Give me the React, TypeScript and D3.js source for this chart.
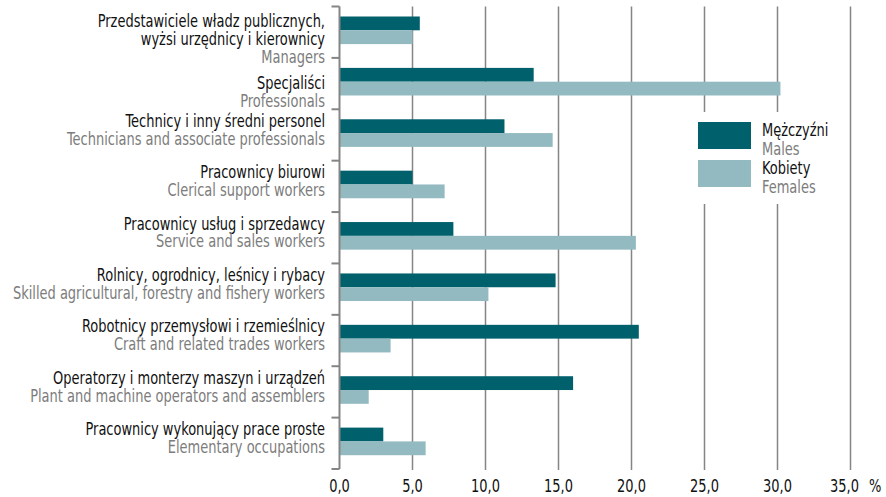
import React, {useRef, useEffect} from 'react';
import * as d3 from 'd3';

// kategorie (PL, wiersze) i nazwy angielskie
const categoriesPl: string[][] = [
  ['Przedstawiciele władz publicznych,', 'wyżsi urzędnicy i kierownicy'],
  ['Specjaliści'],
  ['Technicy i inny średni personel'],
  ['Pracownicy biurowi'],
  ['Pracownicy usług i sprzedawcy'],
  ['Rolnicy, ogrodnicy, leśnicy i rybacy'],
  ['Robotnicy przemysłowi i rzemieślnicy'],
  ['Operatorzy i monterzy maszyn i urządzeń'],
  ['Pracownicy wykonujący prace proste'],
];
const categoriesEn: string[] = [
  'Managers',
  'Professionals',
  'Technicians and associate professionals',
  'Clerical support workers',
  'Service and sales workers',
  'Skilled agricultural, forestry and fishery workers',
  'Craft and related trades workers',
  'Plant and machine operators and assemblers',
  'Elementary occupations',
];
const males: number[] = [5.5, 13.3, 11.3, 5.0, 7.8, 14.8, 20.5, 16.0, 3.0];
const females: number[] = [5.0, 30.2, 14.6, 7.2, 20.3, 10.2, 3.5, 2.0, 5.9];
const ticks: number[] = [0, 5, 10, 15, 20, 25, 30, 35];
const seriesPl = ['Mężczyźni', 'Kobiety'];
const seriesEn = ['Males', 'Females'];

const FONT = "'DejaVu Sans Condensed', 'DejaVu Sans', sans-serif";
const DARK = '#00606b';
const LIGHT = '#93b9c1';
// zwężenie tekstu (brak kroju condensed)
const K = 0.85;
const FS = '17px';

export default function App() {
  const chart = useRef<HTMLDivElement>(null);

  useEffect(() => {
    const ele = chart.current;
    if (!ele) return;
    d3.select(ele).selectAll('*').remove();

    const w = 886;
    const h = 497;

    const svg = d3.select(ele)
      .append('svg')
      .attr('width', w)
      .attr('height', h)
      .style('font-family', FONT);

    // tekst zwężony w poziomie
    function label(parent: any, tx: number, ty: number, s: string, fill: string, anchor = 'start') {
      return parent.append('text')
        .attr('transform', `translate(${tx},${ty}) scale(${K},1)`)
        .attr('text-anchor', anchor)
        .attr('font-size', FS)
        .attr('fill', fill)
        .text(s);
    }

    const x = d3.scaleLinear().domain([0, 35]).range([339.5, 850.5]);
    const idx = categoriesEn.map((d, i) => i);
    const y = d3.scaleBand<number>().domain(idx).range([6.5, 469]);
    const yIn = d3.scaleBand<string>().domain(['m', 'f']).range([10, 37.6]);

    // linie siatki
    svg.append('g')
      .selectAll('line')
      .data(ticks.slice(1))
      .enter()
      .append('line')
      .attr('x1', d => x(d))
      .attr('x2', d => x(d))
      .attr('y1', 6.5)
      .attr('y2', 470)
      .attr('stroke', '#858585')
      .attr('stroke-width', 1.5);

    // słupki
    const g = svg.append('g')
      .selectAll('g')
      .data(idx)
      .enter()
      .append('g')
      .attr('transform', d => `translate(0,${y(d)})`);

    g.append('rect')
      .attr('x', x(0))
      .attr('y', yIn('m')!)
      .attr('width', d => x(males[d]) - x(0))
      .attr('height', yIn.bandwidth())
      .attr('fill', DARK);

    g.append('rect')
      .attr('x', x(0))
      .attr('y', yIn('f')!)
      .attr('width', d => x(females[d]) - x(0))
      .attr('height', yIn.bandwidth())
      .attr('fill', LIGHT);

    // etykiety kategorii
    g.each(function (d) {
      const first = d === 0 ? 20.8 : d === 1 ? 31.4 : 17.5;
      const lines = categoriesPl[d];
      const t = d3.select(this);
      lines.forEach((s, k) => {
        label(t, 325, first + k * 17.8, s, '#111', 'end');
      });
      label(t, 325, first + lines.length * 17.8, categoriesEn[d], '#7c7c7c', 'end');
    });

    // oś pionowa z podziałką
    const bounds = idx.map(d => y(d)!).concat([y.range()[1]]);
    svg.append('line')
      .attr('x1', x(0))
      .attr('x2', x(0))
      .attr('y1', bounds[0])
      .attr('y2', bounds[bounds.length - 1])
      .attr('stroke', '#858585')
      .attr('stroke-width', 2);
    svg.append('g')
      .selectAll('line')
      .data(bounds)
      .enter()
      .append('line')
      .attr('x1', x(0) - 8)
      .attr('x2', x(0))
      .attr('y1', d => d)
      .attr('y2', d => d)
      .attr('stroke', '#858585')
      .attr('stroke-width', 2);

    // opisy osi X (ostatni lekko w lewo, obok znak %)
    const xa = svg.append('g');
    ticks.forEach((d, i) => {
      const dx = i === ticks.length - 1 ? -6 : 0;
      label(xa, x(d) + dx, 492, d3.format('.1f')(d).replace('.', ','), '#111', 'middle');
    });
    label(xa, 869, 492, '%', '#111');

    // legenda
    const legend = svg.append('g');
    legend.append('rect')
      .attr('x', 688)
      .attr('y', 112)
      .attr('width', 150)
      .attr('height', 92)
      .attr('fill', '#fff');
    [DARK, LIGHT].forEach((c, i) => {
      legend.append('rect')
        .attr('x', 698)
        .attr('y', 122 + i * 38)
        .attr('width', 53)
        .attr('height', 27)
        .attr('fill', c);
      label(legend, 762, 136 + i * 38, seriesPl[i], '#111');
      label(legend, 762, 155 + i * 38, seriesEn[i], '#7c7c7c');
    });
  }, []);

  return (
    <div ref={chart} style={{position: 'absolute', top: 0, left: 0}}></div>
  );
}
